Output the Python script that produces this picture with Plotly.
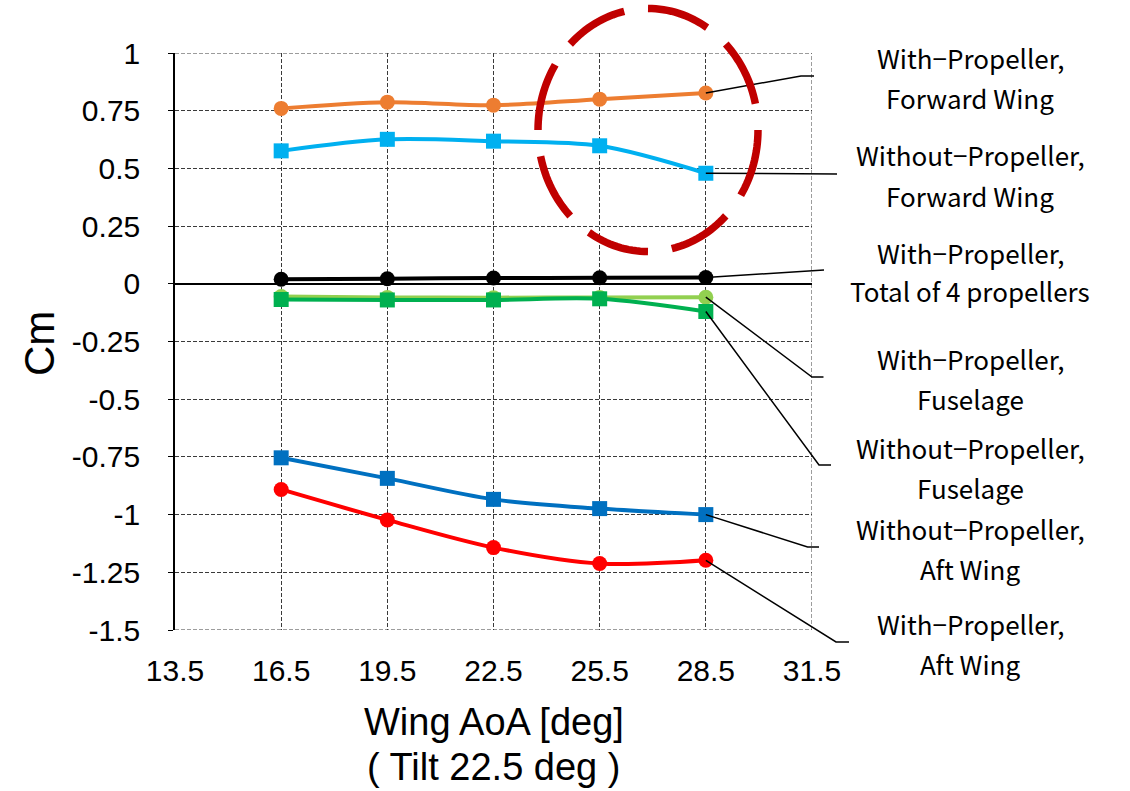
import math
import plotly.graph_objects as go

# ---------------- data ----------------
aoa = [16.5, 19.5, 22.5, 25.5, 28.5]

with_prop_forward_wing = [0.760, 0.787, 0.774, 0.800, 0.827]
without_prop_forward_wing = [0.576, 0.626, 0.618, 0.598, 0.479]
with_prop_total_props = [0.020, 0.022, 0.025, 0.026, 0.027]
with_prop_fuselage = [-0.055, -0.059, -0.060, -0.059, -0.058]
without_prop_fuselage = [-0.068, -0.070, -0.070, -0.065, -0.120]
without_prop_aft_wing = [-0.754, -0.843, -0.934, -0.974, -1.000]
with_prop_aft_wing = [-0.891, -1.023, -1.143, -1.212, -1.198]

x_tickvals = [13.5, 16.5, 19.5, 22.5, 25.5, 28.5, 31.5]
x_ticktext = ["13.5", "16.5", "19.5", "22.5", "25.5", "28.5", "31.5"]
y_tickvals = [1, 0.75, 0.5, 0.25, 0, -0.25, -0.5, -0.75, -1, -1.25, -1.5]
y_ticktext = ["1", "0.75", "0.5", "0.25", "0", "-0.25", "-0.5", "-0.75", "-1", "-1.25", "-1.5"]

series_names = [
    ["With−Propeller,", "Forward Wing"],
    ["Without−Propeller,", "Forward Wing"],
    ["With−Propeller,", "Total of 4 propellers"],
    ["With−Propeller,", "Fuselage"],
    ["Without−Propeller,", "Fuselage"],
    ["Without−Propeller,", "Aft Wing"],
    ["With−Propeller,", "Aft Wing"],
]
series_values = [
    with_prop_forward_wing,
    without_prop_forward_wing,
    with_prop_total_props,
    with_prop_fuselage,
    without_prop_fuselage,
    without_prop_aft_wing,
    with_prop_aft_wing,
]

# ---------------- styles ----------------
colors = ["#ED7D31", "#00B0F0", "#000000", "#92D050", "#00B050", "#0070C0", "#FF0000"]
symbols = ["circle", "square", "circle", "circle", "square", "square", "circle"]

W, H = 1130, 791
ML, MR, MT, MB = 175, 318, 53, 161
PW, PH = W - ML - MR, H - MT - MB
XR = [13.5, 31.5]
YR = [-1.5, 1.0]
GRID_COLOR = "#3a3a3a"
GRID_DASH = "4px,2px"


def px2paper_x(px):
    return (px - ML) / PW


def px2paper_y(py):
    return (H - MB - py) / PH


def data2paper_x(x):
    return (x - XR[0]) / (XR[1] - XR[0])


def data2paper_y(y):
    return (y - YR[0]) / (YR[1] - YR[0])


# leader line bends / ends in pixels (elbow point, end point)
leader_pts = [
    ((801, 76), (814, 76)),
    ((837, 174), (837, 174)),
    ((824, 270), (824, 270)),
    ((812, 377), (823.5, 377)),
    ((819, 465), (831, 465)),
    ((807.6, 547), (819, 547)),
    ((836, 642), (849, 642)),
]
label_y_px = [(57, 97), (155, 195), (252, 290), (358, 398), (447, 487), (528, 568), (623, 663)]
label_x_px = 970

fig = go.Figure()

for i, vals in enumerate(series_values):
    fig.add_trace(go.Scatter(
        x=aoa, y=vals, mode="lines+markers",
        line=dict(color=colors[i], width=4, shape="spline", smoothing=0.9),
        marker=dict(color=colors[i], size=15, symbol=symbols[i]),
        name=" ".join(series_names[i]), showlegend=False,
    ))

shapes = []
# dashed border gridlines at the range edges
shapes.append(dict(type="line", xref="x", yref="y", x0=XR[0], x1=XR[1], y0=YR[1], y1=YR[1],
                   line=dict(color=GRID_COLOR, width=1, dash=GRID_DASH), layer="below"))
shapes.append(dict(type="line", xref="x", yref="y", x0=XR[0], x1=XR[1], y0=YR[0], y1=YR[0],
                   line=dict(color=GRID_COLOR, width=1, dash=GRID_DASH), layer="below"))
shapes.append(dict(type="line", xref="x", yref="y", x0=XR[1], x1=XR[1], y0=YR[0], y1=YR[1],
                   line=dict(color=GRID_COLOR, width=1, dash=GRID_DASH), layer="below"))

annotations = []
for i, vals in enumerate(series_values):
    x0 = data2paper_x(aoa[-1])
    y0 = data2paper_y(vals[-1])
    (bx, by), (ex, ey) = leader_pts[i]
    path = "M {:.5f},{:.5f} L {:.5f},{:.5f} L {:.5f},{:.5f}".format(
        x0, y0, px2paper_x(bx), px2paper_y(by), px2paper_x(ex), px2paper_y(ey))
    shapes.append(dict(type="path", xref="paper", yref="paper", path=path,
                       line=dict(color="black", width=1.5), layer="above"))
    for j, line in enumerate(series_names[i]):
        annotations.append(dict(
            xref="paper", yref="paper", x=px2paper_x(label_x_px), y=px2paper_y(label_y_px[i][j]),
            xanchor="center", yanchor="middle", text=line, showarrow=False,
            font=dict(family="Noto Sans CJK JP", size=26, color="black"),
        ))

# red dashed highlight ellipse: 8 dashes, each ~32 deg of a 45 deg period
ccx, ccy, crx, cry = 648, 130, 110, 121.5
for k in range(8):
    a0 = 45 * k
    a1 = a0 + 32.5
    pts = []
    n = 16
    for s in range(n + 1):
        t = math.radians(a0 + (a1 - a0) * s / n)
        px = ccx + crx * math.cos(t)
        py = ccy + cry * math.sin(t)
        pts.append("{:.5f},{:.5f}".format(px2paper_x(px), px2paper_y(py)))
    shapes.append(dict(type="path", xref="paper", yref="paper",
                       path="M " + " L ".join(pts),
                       line=dict(color="#C00000", width=7.5), layer="above"))

# axis titles
annotations.append(dict(xref="paper", yref="paper", x=px2paper_x(494), y=px2paper_y(722),
                        xanchor="center", yanchor="middle", text="Wing AoA [deg]", showarrow=False,
                        font=dict(family="Liberation Sans", size=38, color="black")))
annotations.append(dict(xref="paper", yref="paper", x=px2paper_x(494), y=px2paper_y(767),
                        xanchor="center", yanchor="middle", text="( Tilt 22.5 deg )", showarrow=False,
                        font=dict(family="Liberation Sans", size=38, color="black")))
annotations.append(dict(xref="paper", yref="paper", x=px2paper_x(39), y=px2paper_y(344),
                        xanchor="center", yanchor="middle", text="Cm", showarrow=False, textangle=-90,
                        font=dict(family="Liberation Sans", size=42, color="black")))

fig.update_layout(
    width=W, height=H,
    margin=dict(l=ML, r=MR, t=MT, b=MB, pad=0),
    paper_bgcolor="white", plot_bgcolor="white",
    shapes=shapes, annotations=annotations,
    font=dict(family="Liberation Sans", color="black"),
)
fig.update_xaxes(
    range=XR, tickvals=x_tickvals, ticktext=x_ticktext,
    showgrid=True, gridcolor=GRID_COLOR, gridwidth=1, griddash=GRID_DASH,
    showline=False, zeroline=False, ticks="",
    tickfont=dict(family="Liberation Sans", size=30, color="black"),
    ticklabelstandoff=20,
)
fig.update_yaxes(
    range=YR, tickvals=y_tickvals, ticktext=y_ticktext,
    showgrid=True, gridcolor=GRID_COLOR, gridwidth=1, griddash=GRID_DASH,
    showline=True, linecolor="black", linewidth=1.5,
    zeroline=True, zerolinecolor="black", zerolinewidth=2,
    ticks="outside", ticklen=5, tickcolor="black", tickwidth=1,
    tickfont=dict(family="Liberation Sans", size=30, color="black"),
    ticklabelstandoff=22,
)

fig.write_html("out.html")
